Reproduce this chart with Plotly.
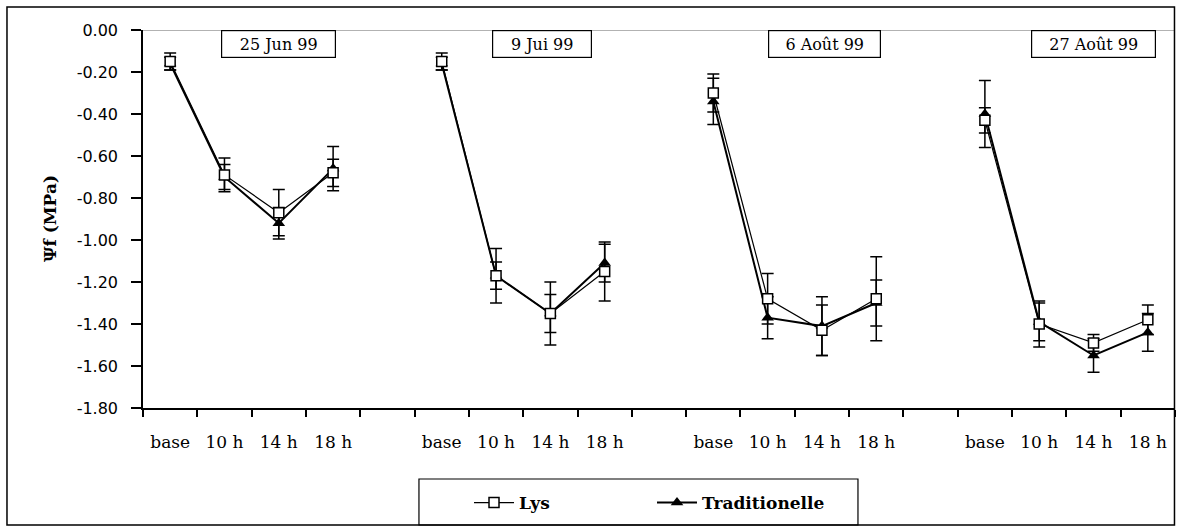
import plotly.graph_objects as go

# ---- data ----
dates = ["25 Jun 99", "9 Jui 99", "6 Août 99", "27 Août 99"]
times = ["base", "10 h", "14 h", "18 h"]

lys = [-0.15, -0.69, -0.87, -0.68,
       -0.15, -1.17, -1.35, -1.15,
       -0.30, -1.28, -1.43, -1.28,
       -0.43, -1.40, -1.49, -1.38]
lys_err = [0.04, 0.08, 0.11, 0.065,
           0.04, 0.13, 0.15, 0.14,
           0.09, 0.12, 0.12, 0.20,
           0.06, 0.11, 0.04, 0.07]
trad = [-0.16, -0.70, -0.92, -0.66,
        -0.16, -1.17, -1.35, -1.11,
        -0.34, -1.37, -1.41, -1.30,
        -0.40, -1.39, -1.55, -1.44]
trad_err = [0.03, 0.06, 0.075, 0.105,
            0.03, 0.065, 0.09, 0.09,
            0.11, 0.10, 0.14, 0.11,
            0.16, 0.09, 0.08, 0.09]

y_tick_vals = [0, -0.2, -0.4, -0.6, -0.8, -1.0, -1.2, -1.4, -1.6, -1.8]
y_tick_text = ["0.00", "-0.20", "-0.40", "-0.60", "-0.80", "-1.00",
               "-1.20", "-1.40", "-1.60", "-1.80"]

# ---- positions on the category axis: 4 groups of 4 + 1 blank slot between ----
n_t = len(times)
slot = n_t + 1
n_cat = len(dates) * slot - 1


def with_gaps(vals):
    out = []
    for g in range(len(dates)):
        out.extend(vals[g * n_t:(g + 1) * n_t])
        if g < len(dates) - 1:
            out.append(None)
    return out


xs = []
for g in range(len(dates)):
    xs.extend([g * slot + i for i in range(n_t)])
    if g < len(dates) - 1:
        xs.append(None)

tick_pos = [g * slot + i for g in range(len(dates)) for i in range(n_t)]
tick_lab = [t for g in range(len(dates)) for t in times]

fig = go.Figure()

fig.add_trace(go.Scatter(
    x=xs, y=with_gaps(trad), name="Traditionelle", mode="lines+markers",
    connectgaps=False, legendrank=2,
    line=dict(color="black", width=2),
    marker=dict(symbol="triangle-up", size=11, color="black"),
    error_y=dict(type="data", array=with_gaps(trad_err), color="black",
                 thickness=1.5, width=6),
))
fig.add_trace(go.Scatter(
    x=xs, y=with_gaps(lys), name="Lys", mode="lines+markers",
    connectgaps=False, legendrank=1,
    line=dict(color="black", width=1.2),
    marker=dict(symbol="square", size=10, color="white",
                line=dict(color="black", width=1.5)),
    error_y=dict(type="data", array=with_gaps(lys_err), color="black",
                 thickness=1.5, width=6),
))

serif = "DejaVu Serif"
sans = "DejaVu Sans"

# date boxes
box_x = [2.0, 6.85, 12.05, 17.0]
box_w = [107, 92, 105, 117]
for d, bx, bw in zip(dates, box_x, box_w):
    fig.add_annotation(x=bx, y=1, xref="x", yref="paper", yanchor="top",
                       text=d, showarrow=False, width=bw, height=20,
                       font=dict(family=serif, size=16, color="black"),
                       bordercolor="black", borderwidth=1.2, borderpad=3,
                       bgcolor="white")

# y axis title
fig.add_annotation(x=-0.1017, y=0.5, xref="paper", yref="paper",
                   text="<b>Ψf (MPa)</b>", textangle=-90, showarrow=False,
                   font=dict(family=serif, size=17, color="black"))

# gray line at 0
fig.add_shape(type="line", xref="paper", yref="y", x0=0, x1=1, y0=0, y1=0,
              line=dict(color="#999999", width=1.5))
# outer border
fig.add_shape(type="rect", xref="paper", yref="paper",
              x0=-0.1318, x1=0.9995, y0=-0.3095, y1=1.0608,
              line=dict(color="black", width=1.5))
# legend frame
fig.add_shape(type="rect", xref="paper", yref="paper",
              x0=0.2674, x1=0.6928, y0=-0.3095, y1=-0.1878,
              line=dict(color="black", width=1.2))

fig.update_layout(
    width=1178, height=527,
    margin=dict(l=143, r=3, t=30, b=119),
    paper_bgcolor="white", plot_bgcolor="white",
    showlegend=True,
    legend=dict(orientation="h", x=0.3159, y=-0.2037, xanchor="left",
                yanchor="top", borderwidth=0,
                font=dict(family=serif, size=17, color="black",
                          weight="bold"),
                entrywidth=128, itemwidth=40,
                bgcolor="rgba(0,0,0,0)"),
    xaxis=dict(range=[-0.5, n_cat - 0.5], showgrid=False, zeroline=False,
               showline=True, linecolor="black", linewidth=1.5,
               tickmode="array", tickvals=tick_pos, ticktext=tick_lab,
               ticks="", ticklabelstandoff=18,
               tickfont=dict(family=serif, size=17, color="black"),
               minor=dict(tickmode="linear", tick0=-0.5, dtick=1,
                          ticks="outside", ticklen=7, tickwidth=1.5,
                          tickcolor="black", showgrid=False)),
    yaxis=dict(range=[-1.8, 0], showgrid=False, zeroline=False,
               showline=True, linecolor="black", linewidth=1.5,
               tickmode="array", tickvals=y_tick_vals, ticktext=y_tick_text,
               ticks="outside", ticklen=10, tickwidth=1.5, tickcolor="black",
               ticklabelstandoff=10,
               tickfont=dict(family=sans, size=16, color="black")),
)

fig.write_html("out.html")
